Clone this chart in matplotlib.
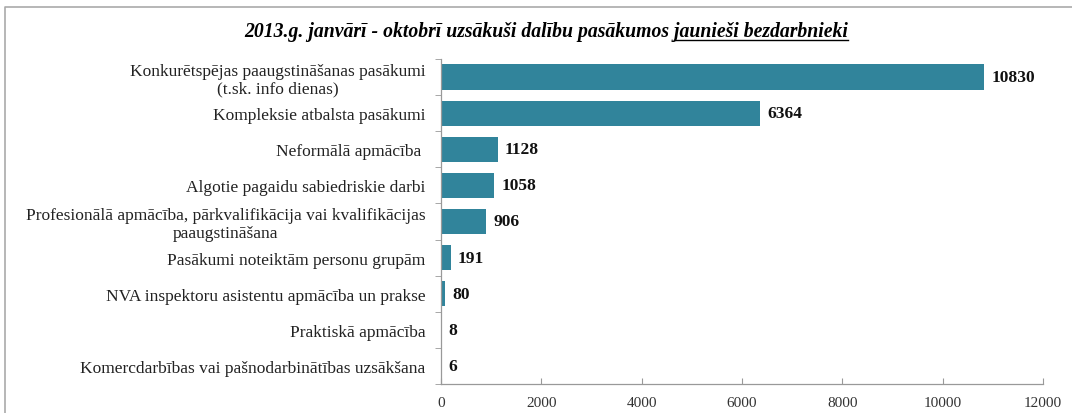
import numpy as np
import matplotlib
matplotlib.use("Agg")
import matplotlib.pyplot as plt
from matplotlib.lines import Line2D

# dati
categories = [
    "Konkurētspējas paaugstināšanas pasākumi\n(t.sk. info dienas)",
    "Kompleksie atbalsta pasākumi",
    "Neformālā apmācība ",
    "Algotie pagaidu sabiedriskie darbi",
    "Profesionālā apmācība, pārkvalifikācija vai kvalifikācijas\npaaugstināšana",
    "Pasākumi noteiktām personu grupām",
    "NVA inspektoru asistentu apmācība un prakse",
    "Praktiskā apmācība",
    "Komercdarbības vai pašnodarbinātības uzsākšana",
]
values = [10830, 6364, 1128, 1058, 906, 191, 80, 8, 6]
x_ticks = [0, 2000, 4000, 6000, 8000, 10000, 12000]

title_plain = "2013.g. janvārī - oktobrī uzsākuši dalību pasākumos "
title_under = "jaunieši bezdarbnieki"

BAR = "#31849B"
SERIF = ["Liberation Serif", "DejaVu Serif"]
TITLE_FS = 14.2

plt.rcParams["font.family"] = SERIF

fig = plt.figure(figsize=(10.72, 4.14), dpi=100)
ax = fig.add_axes([441 / 1072, 1 - 385 / 414, (1043 - 441) / 1072, (385 - 60) / 414])

y = np.arange(len(categories))
ax.barh(y, values, height=0.7, color=BAR)
ax.set_ylim(len(categories) - 0.5, -0.5)
ax.set_xlim(0, 12000)

for yi, v in zip(y, values):
    ax.text(v + 140, yi, str(v), va="center", ha="left",
            fontsize=12.5, fontweight="bold", color="#111111")

# y ass: etiķetes centrā, iedaļas starp kategorijām
ax.set_yticks(y)
ax.set_yticklabels(categories, fontsize=12.5, linespacing=1.15)
for lab in ax.get_yticklabels():
    lab.set_multialignment("center")
ax.tick_params(axis="y", which="major", length=0, pad=11, colors="#222222")
ax.set_yticks(np.arange(-0.5, len(categories)), minor=True)
ax.tick_params(axis="y", which="minor", length=4, color="#999999", direction="out")

ax.set_xticks(x_ticks)
ax.set_xticklabels([str(t) for t in x_ticks], fontsize=11)
ax.tick_params(axis="x", length=4, direction="in", color="#999999", pad=9,
               labelcolor="#333333")

for s in ["top", "right"]:
    ax.spines[s].set_visible(False)
for s in ["left", "bottom"]:
    ax.spines[s].set_color("#999999")
    ax.spines[s].set_linewidth(0.9)

# virsraksts ar pasvītrotu daļu
full = title_plain + title_under
t = fig.text(546 / 1072, 1 - 32 / 414, full, ha="center", va="center",
             fontsize=TITLE_FS, fontweight="bold", fontstyle="italic")
fig.canvas.draw()
r = fig.canvas.get_renderer()
bb = t.get_window_extent(r)
tmp = fig.text(0, 0, title_plain, fontsize=TITLE_FS, fontweight="bold", fontstyle="italic")
w_plain = tmp.get_window_extent(r).width
tmp.remove()
x0 = (bb.x0 + w_plain) / fig.bbox.width
x1 = bb.x1 / fig.bbox.width
yl = (bb.y0 + 1) / fig.bbox.height
fig.add_artist(Line2D([x0, x1], [yl, yl], transform=fig.transFigure,
                      color="black", linewidth=1.0))

# rāmis ap diagrammu (redzama kreisā un augšējā mala)
fx, fy = 5 / 1072, 1 - 8 / 414
fig.add_artist(Line2D([fx, fx, 1.0], [0.0, fy, fy], transform=fig.transFigure,
                      color="#AAAAAA", linewidth=1.2))

fig.savefig("out.png", dpi=100)
